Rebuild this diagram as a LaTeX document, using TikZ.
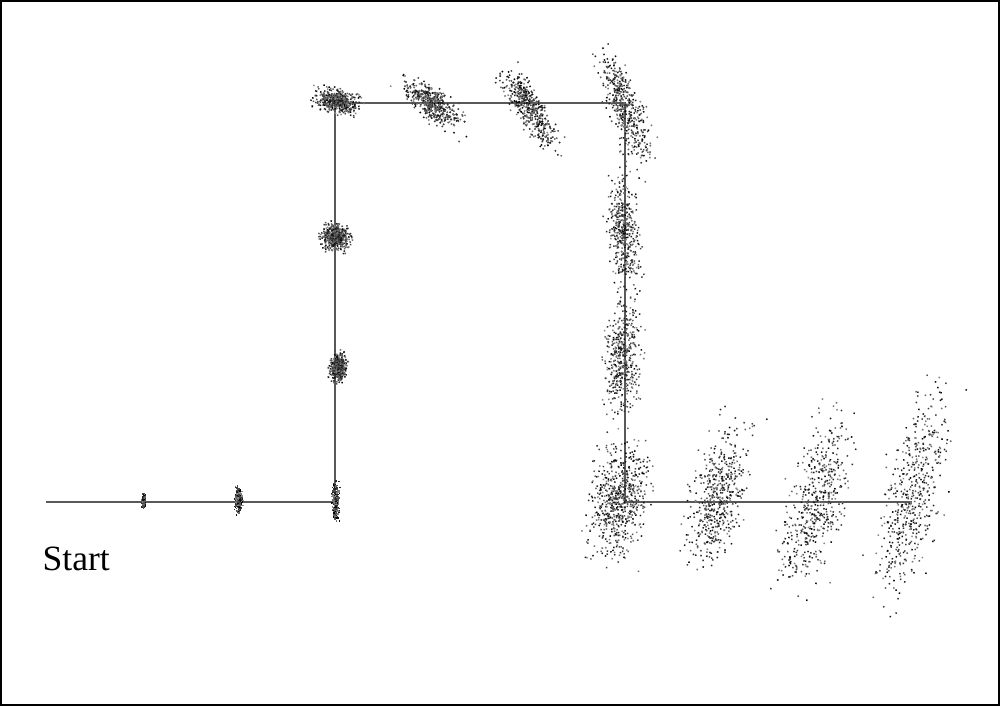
\documentclass[tikz,border=0pt]{standalone}
\usepackage{fontspec}
\setmainfont{Liberation Serif}
\usetikzlibrary{positioning}

% one cloud of particles: x, y, angle, spread along, spread across, count
\newcommand{\particlecloud}[6]{%
  \begin{scope}[shift={(#1,#2)}, rotate=#3]
    \foreach \k in {1,...,#6}{
      \pgfmathsetmacro\du{(rand+rand+rand)*#4}
      \pgfmathsetmacro\dv{(rand+rand+rand)*#5}
      \pgfmathtruncatemacro\tone{random(45,100)}
      \fill[black!\tone] (\du,\dv) rectangle ++(1.5,1.5);
    }
  \end{scope}}

\begin{document}
\begin{tikzpicture}[x=0.01cm, y=-0.01cm,
  route/.style={draw=black!65, line width=0.45pt},
  frame/.style={draw=black, line width=0.6pt},
  label/.style={font=\fontsize{10.1}{12}\selectfont, inner sep=0pt, anchor=base west}]
\pgfmathsetseed{7}
\useasboundingbox (0,0) rectangle (1000,706);
\draw[frame] (1,1) rectangle (999,705);

\coordinate (start) at (46,502);
\coordinate (c1) at (335,502);
\coordinate (c2) at (335,103);
\coordinate (c3) at (625,103);
\coordinate (c4) at (625,502);
\coordinate (goal) at (912,502);
\draw[route] (start) -- (c1) -- (c2) -- (c3) -- (c4) -- (goal);

\node[label] (startlbl) at (42,570) {Start};

% clouds along the route
\particlecloud{143}{502}{90}{3}{0.8}{200}
\particlecloud{238}{501}{90}{5.5}{1.6}{350}
\particlecloud{335}{502}{90}{8}{1.7}{350}
\particlecloud{337}{368}{85}{6.5}{3.8}{450}
\particlecloud{335}{236}{-10}{6.5}{6}{500}
\particlecloud{337}{101}{-12}{10}{5.5}{500}
\particlecloud{432}{103}{-38}{16}{6.5}{450}
\particlecloud{530}{108}{-58}{21}{6.5}{450}
\particlecloud{625}{105}{-70}{27}{7.5}{450}
\particlecloud{624}{230}{-86}{26}{7}{450}
\particlecloud{622}{360}{88}{27}{8.5}{480}
\particlecloud{618}{502}{80}{27}{13}{650}
\particlecloud{717}{497}{76}{33}{12}{520}
\particlecloud{815}{502}{75}{41}{12.5}{520}
\particlecloud{912}{497}{78}{49}{13}{520}
\end{tikzpicture}
\end{document}
